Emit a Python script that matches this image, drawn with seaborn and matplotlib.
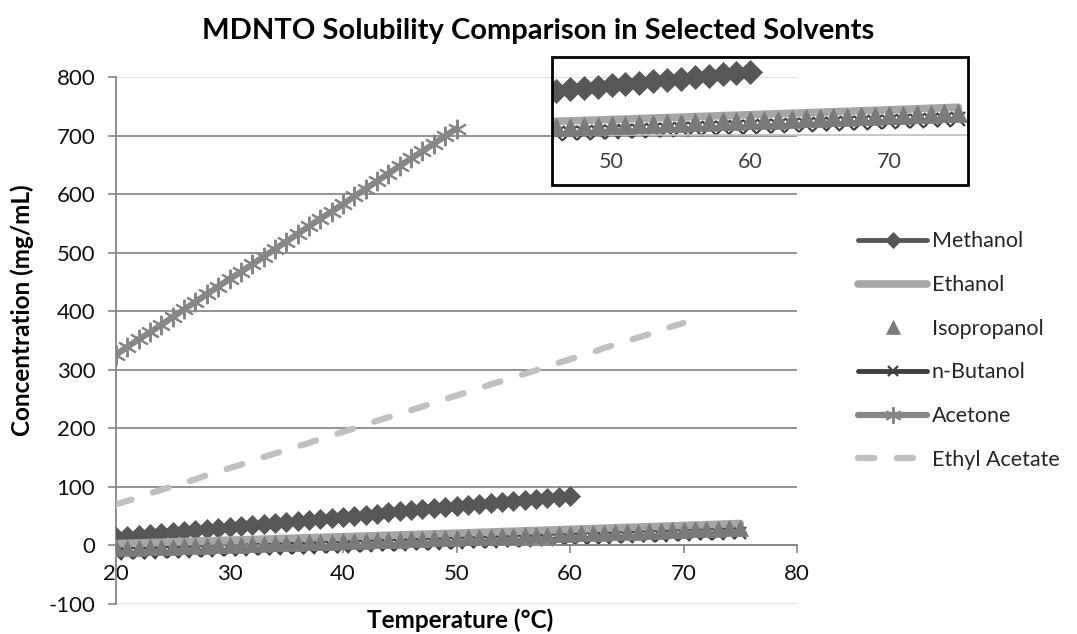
import numpy as np
import pandas as pd
import matplotlib
matplotlib.use("Agg")
import matplotlib.pyplot as plt
from matplotlib.patches import Rectangle
import seaborn as sns

# ---------------- data ----------------
temp_methanol = [20, 21, 22, 23, 24, 25, 26, 27, 28, 29, 30, 31, 32, 33, 34, 35, 36, 37, 38, 39, 40,
                 41, 42, 43, 44, 45, 46, 47, 48, 49, 50, 51, 52, 53, 54, 55, 56, 57, 58, 59, 60]
methanol = [14.0, 15.6, 17.3, 19.0, 20.8, 22.5, 24.3, 26.0, 27.8, 29.5, 31.3, 33.1, 34.8, 36.6,
            38.4, 40.2, 41.9, 43.7, 45.5, 47.3, 49.1, 50.9, 52.7, 54.5, 56.3, 58.1, 59.9, 61.7,
            63.5, 65.3, 67.1, 68.9, 70.7, 72.5, 74.3, 76.1, 77.9, 79.7, 81.5, 83.3, 85.1]

temp_alcohols = [20, 21, 22, 23, 24, 25, 26, 27, 28, 29, 30, 31, 32, 33, 34, 35, 36, 37, 38, 39,
                 40, 41, 42, 43, 44, 45, 46, 47, 48, 49, 50, 51, 52, 53, 54, 55, 56, 57, 58, 59,
                 60, 61, 62, 63, 64, 65, 66, 67, 68, 69, 70, 71, 72, 73, 74, 75]
ethanol = [3.0, 3.6, 4.2, 4.8, 5.4, 6.0, 6.6, 7.2, 7.8, 8.4, 9.0, 9.6, 10.2, 10.8, 11.4, 12.0,
           12.6, 13.2, 13.8, 14.4, 15.0, 15.6, 16.2, 16.8, 17.4, 18.0, 18.6, 19.2, 19.8, 20.4,
           21.0, 21.6, 22.3, 22.9, 23.6, 24.2, 24.9, 25.5, 26.2, 26.8, 27.5, 28.1, 28.8, 29.4,
           30.1, 30.7, 31.4, 32.0, 32.7, 33.3, 34.0, 34.7, 35.4, 36.1, 36.8, 37.5]
isopropanol = [-5.0, -4.4, -3.8, -3.2, -2.6, -2.0, -1.4, -0.8, -0.2, 0.4, 1.0, 1.6, 2.2, 2.8,
               3.4, 4.0, 4.6, 5.2, 5.8, 6.4, 7.0, 7.6, 8.2, 8.8, 9.4, 10.0, 10.6, 11.3, 11.9,
               12.5, 13.2, 13.8, 14.5, 15.1, 15.8, 16.4, 17.1, 17.7, 18.4, 19.0, 19.7, 20.4,
               21.0, 21.7, 22.4, 23.1, 23.8, 24.5, 25.2, 25.9, 26.6, 27.3, 28.0, 28.7, 29.4, 30.1]
butanol = [-14.0, -13.4, -12.8, -12.2, -11.6, -11.0, -10.4, -9.8, -9.2, -8.6, -8.0, -7.4, -6.8,
           -6.2, -5.6, -5.0, -4.4, -3.8, -3.2, -2.6, -2.0, -1.3, -0.7, 0.0, 0.6, 1.3, 1.9, 2.6,
           3.2, 3.9, 4.5, 5.2, 5.8, 6.5, 7.1, 7.8, 8.4, 9.1, 9.8, 10.5, 11.2, 11.9, 12.6, 13.3,
           14.0, 14.7, 15.4, 16.1, 16.8, 17.5, 18.2, 18.9, 19.6, 20.3, 21.0, 21.7]

temp_acetone = [20, 21, 22, 23, 24, 25, 26, 27, 28, 29, 30, 31, 32, 33, 34, 35, 36, 37, 38, 39,
                40, 41, 42, 43, 44, 45, 46, 47, 48, 49, 50]
acetone = [326, 339, 352, 364, 377, 390, 403, 416, 429, 442, 455, 467, 480, 493, 506, 519, 532,
           545, 558, 570, 583, 596, 609, 622, 635, 648, 661, 673, 686, 699, 712]

temp_ethyl = [20, 21, 22, 23, 24, 25, 26, 27, 28, 29, 30, 31, 32, 33, 34, 35, 36, 37, 38, 39, 40,
              41, 42, 43, 44, 45, 46, 47, 48, 49, 50, 51, 52, 53, 54, 55, 56, 57, 58, 59, 60,
              61, 62, 63, 64, 65, 66, 67, 68, 69, 70]
ethyl_acetate = [70, 76, 82, 89, 95, 101, 107, 113, 120, 126, 132, 138, 144, 151, 157, 163, 169,
                 175, 182, 188, 194, 200, 206, 213, 219, 225, 231, 237, 244, 250, 256, 262, 268,
                 275, 281, 287, 293, 299, 306, 312, 318, 324, 330, 337, 343, 349, 355, 361, 368,
                 374, 380]

y_ticks = [-100, 0, 100, 200, 300, 400, 500, 600, 700, 800]
x_ticks = [20, 30, 40, 50, 60, 70, 80]
inset_ticks = [50, 60, 70]

# ---------------- style ----------------
sns.set_theme(style="white")
plt.rcParams["font.family"] = ["Lato", "DejaVu Sans"]
plt.rcParams["axes.unicode_minus"] = False

# series styles: (label, temps, values, color, kwargs, zorder)
series = [
    ("n-Butanol", temp_alcohols, butanol, "#404040",
     dict(marker="x", markersize=9, mew=1.6, lw=3.5), 2),
    ("Methanol", temp_methanol, methanol, "#575757",
     dict(marker="D", markersize=10, mew=0.5, lw=3.5), 3),
    ("Ethanol", temp_alcohols, ethanol, "#a6a6a6",
     dict(lw=5.5), 4),
    ("Isopropanol", temp_alcohols, isopropanol, "#7a7a7a",
     dict(marker="^", markersize=12, mew=0.5, linestyle=""), 5),
    ("Acetone", temp_acetone, acetone, "#878787",
     dict(marker=(6, 2, 0), markersize=14, mew=1.5, lw=4.5), 6),
    ("Ethyl Acetate", temp_ethyl, ethyl_acetate, "#c0c0c0",
     dict(lw=4.5, linestyle=(0, (2.6, 3.6)), dash_capstyle="round"), 7),
]
legend_order = ["Methanol", "Ethanol", "Isopropanol", "n-Butanol", "Acetone", "Ethyl Acetate"]

fig = plt.figure(figsize=(10.77, 6.34), dpi=100)
ax = fig.add_axes([116 / 1077, 1 - 604 / 634, (797 - 116) / 1077, (604 - 77) / 634])

for label, t, v, c, kw, z in series:
    df = pd.DataFrame({"Temperature": t, "Concentration": v})
    sns.lineplot(data=df, x="Temperature", y="Concentration", ax=ax, color=c, mec=c,
                 label=label, estimator=None, sort=False, zorder=z, **kw)

ax.set_xlim(20, 80)
ax.set_ylim(-100, 800)
ax.set_xticks(x_ticks)
ax.set_yticks(y_ticks)
ax.tick_params(axis="both", labelsize=16, labelcolor="#111111", length=6, width=1.2,
               direction="out", color="#868686")
ax.tick_params(axis="x", pad=7)
ax.tick_params(axis="y", pad=9)
ax.grid(axis="y", color="#8a8a8a", lw=1.3)
ax.grid(axis="x", visible=False)
ax.set_axisbelow(True)
for gl in (ax.get_ygridlines()[0], ax.get_ygridlines()[-1]):
    gl.set_color("#dcdcdc")

for s in ["top", "right"]:
    ax.spines[s].set_visible(False)
ax.spines["left"].set_color("#868686")
ax.spines["left"].set_linewidth(1.3)
ax.spines["bottom"].set_position(("data", 0))
ax.spines["bottom"].set_color("#868686")
ax.spines["bottom"].set_linewidth(1.3)
ax.xaxis.set_ticks_position("bottom")
ax.yaxis.set_ticks_position("left")

ax.set_xlabel("")
ax.set_ylabel("")
fig.text(460 / 1077, 1 - 620 / 634, "Temperature (°C)", ha="center", va="center",
         fontsize=17.5, fontweight="bold", color="#000000")
fig.text(22 / 1077, 1 - 310 / 634, "Concentration (mg/mL)", ha="center", va="center",
         rotation=90, fontsize=17.5, fontweight="bold", color="#000000")
fig.text(538 / 1077, 1 - 31 / 634, "MDNTO Solubility Comparison in Selected Solvents",
         ha="center", va="center", fontsize=21, fontweight="bold", color="#000000")

# legend on the right
handles, labels = ax.get_legend_handles_labels()
hmap = dict(zip(labels, handles))
ax.get_legend().remove()
fig.legend([hmap[l] for l in legend_order], legend_order, loc="upper left",
           bbox_to_anchor=(839 / 1077, 1 - 212 / 634), frameon=False, fontsize=15.5,
           handlelength=3.2, labelspacing=1.1, handletextpad=0.2, markerscale=0.85)

# ---------------- inset ----------------
ix0, iy0, ix1, iy1 = 552, 57, 968, 185
axi = fig.add_axes([ix0 / 1077, 1 - iy1 / 634, (ix1 - ix0) / 1077, (iy1 - iy0) / 634])
inset_sizes = {"Methanol": 12, "Isopropanol": 13, "n-Butanol": 10}
for label, t, v, c, kw, z in series:
    if label in ("Acetone", "Ethyl Acetate"):
        continue
    kw = dict(kw)
    if label in inset_sizes:
        kw["markersize"] = inset_sizes[label]
    df = pd.DataFrame({"Temperature": t, "Concentration": v})
    sns.lineplot(data=df, x="Temperature", y="Concentration", ax=axi, color=c, mec=c,
                 estimator=None, sort=False, zorder=z, legend=False, **kw)
axi.set_xlim(45.7, 75.7)
axi.set_ylim(-67, 105)
axi.set_xticks(inset_ticks)
axi.set_yticks([])
axi.set_xlabel("")
axi.set_ylabel("")
for s in ["top", "right", "left"]:
    axi.spines[s].set_visible(False)
axi.spines["bottom"].set_position(("data", 0))
axi.spines["bottom"].set_color("#bfbfbf")
axi.spines["bottom"].set_linewidth(1.2)
axi.tick_params(axis="x", labelsize=15.5, labelcolor="#404040", color="#bfbfbf", length=6,
                width=1.2, pad=6)
axi.patch.set_alpha(0)
fig.patches.append(Rectangle((ix0 / 1077, 1 - iy1 / 634), (ix1 - ix0) / 1077,
                             (iy1 - iy0) / 634, transform=fig.transFigure, fill=False,
                             edgecolor="#000000", lw=2, zorder=10))

fig.savefig("out.png", dpi=100)
